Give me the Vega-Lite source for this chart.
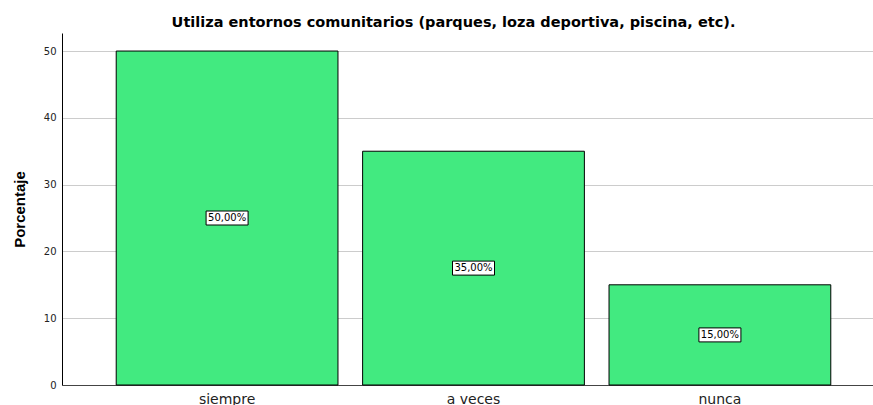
{
  "$schema": "https://vega.github.io/schema/vega-lite/v6.json",
  "width": 811,
  "height": 352,
  "autosize": "none",
  "padding": {"left": 62, "top": 33, "right": 0, "bottom": 20},
  "background": "white",
  "title": {
    "text": "Utiliza entornos comunitarios (parques, loza deportiva, piscina, etc).",
    "font": "DejaVu Sans",
    "fontSize": 14.5,
    "fontWeight": "bold",
    "color": "#000000",
    "anchor": "middle",
    "dx": -14,
    "offset": 3
  },
  "config": {
    "view": {"stroke": null},
    "axis": {"labelFont": "DejaVu Sans", "titleFont": "Liberation Sans"}
  },
  "data": {
    "values": [
      {"cat": "siempre", "pct": 50, "label": "50,00%"},
      {"cat": "a veces", "pct": 35, "label": "35,00%"},
      {"cat": "nunca", "pct": 15, "label": "15,00%"}
    ]
  },
  "encoding": {
    "x": {
      "field": "cat",
      "type": "nominal",
      "sort": null,
      "scale": {"range": [0, 823], "paddingInner": 0.1, "paddingOuter": 0.22},
      "axis": {
        "title": null,
        "labelAngle": 0,
        "labelFontSize": 14,
        "labelColor": "#222222",
        "labelPadding": 7,
        "ticks": false,
        "domainColor": "#444444",
        "domainWidth": 1
      }
    }
  },
  "layer": [
    {
      "mark": {"type": "bar", "color": "#42EA80", "stroke": "#000000", "strokeWidth": 1},
      "encoding": {
        "y": {
          "field": "pct",
          "type": "quantitative",
          "scale": {"domain": [0, 52.7], "nice": false},
          "axis": {
            "title": "Porcentaje",
            "titleFontSize": 15,
            "titleFontWeight": "bold",
            "titleColor": "#000000",
            "titlePadding": 16,
            "values": [0, 10, 20, 30, 40, 50],
            "labelFontSize": 10,
            "labelColor": "#222222",
            "labelPadding": 6,
            "ticks": false,
            "grid": true,
            "gridColor": "#cccccc",
            "gridWidth": 1,
            "domainColor": "#000000",
            "domainWidth": 1
          }
        }
      }
    },
    {
      "transform": [{"calculate": "datum.pct / 2", "as": "mid"}],
      "mark": {
        "type": "point",
        "shape": "M-1,-0.333L1,-0.333L1,0.333L-1,0.333Z",
        "size": 1764,
        "filled": true,
        "fill": "#ffffff",
        "stroke": "#000000",
        "strokeWidth": 1,
        "opacity": 1
      },
      "encoding": {"y": {"field": "mid", "type": "quantitative"}}
    },
    {
      "transform": [{"calculate": "datum.pct / 2", "as": "mid"}],
      "mark": {"type": "text", "font": "DejaVu Sans", "fontSize": 10, "color": "#000000", "baseline": "middle"},
      "encoding": {
        "y": {"field": "mid", "type": "quantitative"},
        "text": {"field": "label"}
      }
    }
  ]
}
